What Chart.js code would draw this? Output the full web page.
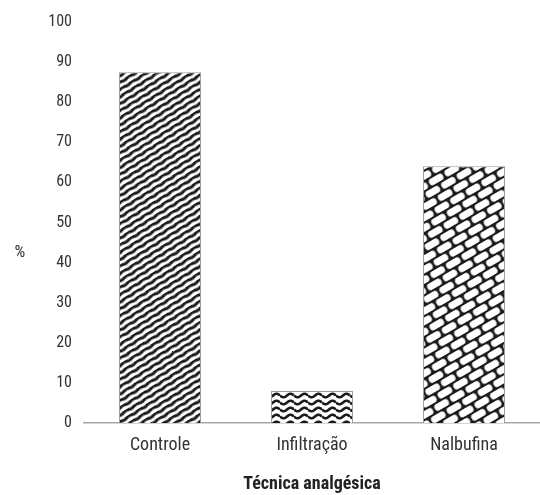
<!DOCTYPE html>
<html>
<head>
<meta charset="utf-8">
<script src="https://cdn.jsdelivr.net/npm/chart.js@4"></script>
<style>
  html, body { margin: 0; padding: 0; background: #fff; }
  #wrap { width: 540px; height: 495px; }
</style>
</head>
<body>
<div id="wrap"><canvas id="grafico"></canvas></div>
<script>
const categorias = ["Controle", "Infiltração", "Nalbufina"];
const valores = [87.5, 8, 64];
const yTicks = [0, 10, 20, 30, 40, 50, 60, 70, 80, 90, 100];

const fonte = "'Liberation Sans Narrow', 'Roboto Condensed', Roboto, sans-serif";

function tile(w, h, draw) {
    const c = document.createElement("canvas");
    c.width = w;
    c.height = h;
    const g = c.getContext("2d");
    draw(g, w, h);
    return c;
}

function padraoListras(ctx) {
    // listras diagonais levemente onduladas
    const t = tile(12, 6, (g, w, h) => {
        g.fillStyle = "#fff";
        g.fillRect(0, 0, w, h);
        g.strokeStyle = "#1a1a1a";
        g.lineWidth = 3;
        g.beginPath();
        for (let x = -1; x <= w + 1; x += 0.5) {
            const y = 1.5 + 0.6 * Math.sin((x / w) * Math.PI * 2);
            if (x === -1) g.moveTo(x, y); else g.lineTo(x, y);
        }
        g.stroke();
    });
    const p = ctx.createPattern(t, "repeat");
    p.setTransform(new DOMMatrix().rotate(-32));
    return p;
}

function padraoOndas(ctx) {
    const t = tile(14, 7, (g, w, h) => {
        g.fillStyle = "#fff";
        g.fillRect(0, 0, w, h);
        g.strokeStyle = "#1a1a1a";
        g.lineWidth = 2.6;
        g.beginPath();
        for (let x = 0; x <= w; x += 0.5) {
            const y = 3.5 + 1.8 * Math.sin((x / w) * Math.PI * 2);
            if (x === 0) g.moveTo(x, y); else g.lineTo(x, y);
        }
        g.stroke();
    });
    return ctx.createPattern(t, "repeat");
}

function padraoTijolos(ctx) {
    const t = tile(18, 18, (g, w, h) => {
        g.fillStyle = "#1a1a1a";
        g.fillRect(0, 0, w, h);
        g.fillStyle = "#fff";
        const tij = (x, y) => {
            g.beginPath();
            g.roundRect(x, y, 15.5, 7, 3);
            g.fill();
        };
        tij(1.25, 1);
        tij(-7.75, 10);
        tij(10.25, 10);
    });
    const p = ctx.createPattern(t, "repeat");
    p.setTransform(new DOMMatrix().rotate(-30));
    return p;
}

// "%" horizontal à esquerda, como no original
const rotuloY = {
    id: "rotuloY",
    afterDraw(chart) {
        const { ctx, chartArea } = chart;
        ctx.save();
        ctx.fillStyle = "#333";
        ctx.font = "17px " + fonte;
        ctx.textAlign = "center";
        ctx.textBaseline = "middle";
        ctx.fillText("%", 20, (chartArea.top + chartArea.bottom) / 2 + 30);
        ctx.restore();
    }
};

document.addEventListener("DOMContentLoaded", () => {
    const ctx = document.getElementById("grafico").getContext("2d");

    const data = {
        labels: categorias,
        datasets: [
            {
                label: "%",
                data: valores,
                backgroundColor: [padraoListras(ctx), padraoOndas(ctx), padraoTijolos(ctx)],
                borderColor: "#9a9a9a",
                borderWidth: 1,
                barPercentage: 0.54,
                categoryPercentage: 1
            }
        ]
    };

    const options = {
        responsive: true,
        maintainAspectRatio: false,
        animation: false,
        layout: { padding: { top: 22, right: 0, bottom: 0, left: 0 } },
        plugins: {
            legend: { display: false },
            tooltip: { enabled: false }
        },
        scales: {
            x: {
                grid: { display: false },
                border: { display: true, color: "#a8a8a8", width: 1.5 },
                ticks: {
                    color: "#333",
                    font: { family: fonte, size: 18 },
                    padding: 4
                },
                title: {
                    display: true,
                    text: "Técnica analgésica",
                    color: "#222",
                    font: { family: fonte, size: 18, weight: "bold" },
                    padding: { top: 22, bottom: 0 }
                },
                afterFit: (scale) => { scale.height = 72; }
            },
            y: {
                min: 0,
                max: 100,
                afterBuildTicks: (scale) => {
                    scale.ticks = yTicks.map(v => ({ value: v }));
                },
                grid: { display: false },
                border: { display: false },
                ticks: {
                    color: "#333",
                    font: { family: fonte, size: 16 },
                    padding: 4
                },
                afterFit: (scale) => { scale.width = 84; }
            }
        }
    };

    new Chart(ctx, {
        type: "bar",
        data: data,
        options: options,
        plugins: [rotuloY]
    });
});
</script>
</body>
</html>
